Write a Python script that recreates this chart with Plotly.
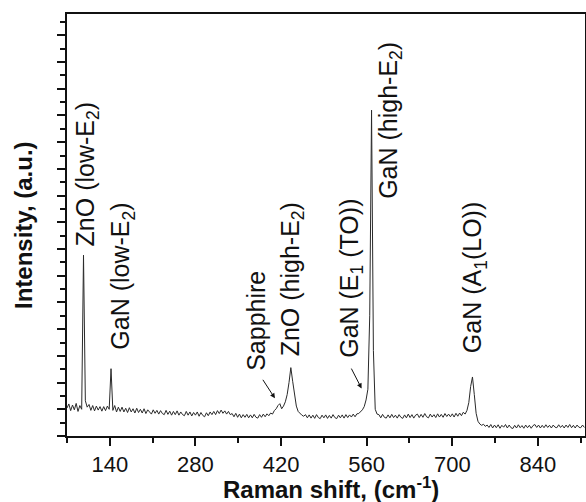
import plotly.graph_objects as go

# Raman shift sampling (cm^-1)
raman_shift = list(range(70, 917, 3))

# Intensity (a.u.)
intensity = [
    1.05, 1.20, 0.95, 1.16, 0.98, 1.22, 0.92, 1.14, 1.00, 6.77,
    1.32, 1.08, 1.18, 0.96, 1.14, 0.94, 1.12, 0.97, 1.10, 0.93,
    1.10, 0.95, 1.12, 1.00, 2.52, 0.96, 1.14, 0.90, 1.08, 0.92,
    1.08, 0.90, 1.04, 0.88, 1.06, 0.90, 1.02, 0.86, 1.04, 0.88,
    1.00, 0.86, 1.02, 0.84, 0.98, 0.90, 0.82, 0.98, 0.85, 0.96,
    0.82, 0.95, 0.84, 0.80, 0.96, 0.81, 0.93, 0.78, 0.92, 0.80,
    0.94, 0.78, 0.90, 0.80, 0.76, 0.92, 0.78, 0.90, 0.75, 0.88,
    0.78, 0.90, 0.74, 0.88, 0.77, 0.72, 0.87, 0.76, 0.90, 0.80,
    0.92, 0.80, 0.95, 0.84, 0.97, 0.85, 0.94, 0.82, 0.92, 0.80,
    0.84, 0.72, 0.85, 0.70, 0.82, 0.68, 0.80, 0.70, 0.81, 0.68,
    0.79, 0.68, 0.81, 0.70, 0.67, 0.80, 0.70, 0.82, 0.72, 0.83,
    0.76, 0.86, 0.82, 0.95, 1.02, 1.14, 1.21, 1.02, 1.12, 1.28,
    1.55, 2.00, 2.56, 2.05, 1.50, 1.12, 0.92, 0.84, 0.78, 0.74,
    0.80, 0.68, 0.79, 0.67, 0.78, 0.66, 0.80, 0.69, 0.65, 0.78,
    0.68, 0.79, 0.66, 0.77, 0.67, 0.80, 0.69, 0.65, 0.78, 0.68,
    0.79, 0.67, 0.80, 0.69, 0.79, 0.71, 0.82, 0.72, 0.83, 0.84,
    0.90, 0.98, 1.10, 1.35, 1.75, 4.50, 12.2, 3.20, 1.00, 0.82,
    0.80, 0.68, 0.81, 0.70, 0.67, 0.79, 0.68, 0.81, 0.69, 0.78,
    0.67, 0.80, 0.70, 0.66, 0.79, 0.68, 0.82, 0.69, 0.80, 0.67,
    0.78, 0.82, 0.69, 0.81, 0.70, 0.84, 0.72, 0.68, 0.82, 0.71,
    0.80, 0.69, 0.83, 0.71, 0.81, 0.70, 0.84, 0.73, 0.82, 0.72,
    0.83, 0.71, 0.85, 0.74, 0.86, 0.76, 0.89, 0.82, 0.96, 1.25,
    1.85, 2.21, 1.55, 0.85, 0.55, 0.45, 0.40, 0.44, 0.36, 0.41,
    0.32, 0.43, 0.30, 0.41, 0.31, 0.42, 0.29, 0.40, 0.33, 0.43,
    0.30, 0.41, 0.31, 0.28, 0.40, 0.30, 0.42, 0.31, 0.39, 0.29,
    0.41, 0.31, 0.40, 0.29, 0.39, 0.43, 0.32, 0.41, 0.30, 0.40,
    0.31, 0.42, 0.32, 0.40, 0.30, 0.41, 0.33, 0.31, 0.42, 0.32,
    0.40, 0.30, 0.41, 0.32, 0.43, 0.31, 0.40, 0.30, 0.41, 0.33,
    0.31, 0.41, 0.32,
]

# Peak labels: text, x position (cm^-1), bottom y (a.u.)
label_texts = ["ZnO (low-E<sub>2</sub>)", "GaN (low-E<sub>2</sub>)", "Sapphire",
               "ZnO (high-E<sub>2</sub>)", "GaN (E<sub>1</sub> (TO))",
               "GaN (high-E<sub>2</sub>)", "GaN (A<sub>1</sub>(LO))"]
label_x = [103, 160, 380, 438, 533, 598, 736]
label_y = [7.03, 3.14, 2.35, 2.91, 2.84, 8.82, 3.02]

# Arrows: tail and head positions
arrow_tail_x = [388.7, 533.7]
arrow_tail_y = [2.16, 2.58]
arrow_head_x = [410, 551.7]
arrow_head_y = [1.41, 1.78]

x_ticks = [140, 280, 420, 560, 700, 840]

FONT = "Liberation Sans, Arial, Helvetica, sans-serif"

fig = go.Figure()
fig.add_trace(go.Scatter(x=raman_shift, y=intensity, mode="lines",
                         line=dict(color="#2a2a2a", width=1), showlegend=False))

annotations = []
for t, lx, ly in zip(label_texts, label_x, label_y):
    annotations.append(dict(x=lx, y=ly, xref="x", yref="y", text=t, textangle=-90,
                            showarrow=False, xanchor="center", yanchor="bottom",
                            font=dict(family=FONT, size=25, color="#111111")))
for tx, ty, hx, hy in zip(arrow_tail_x, arrow_tail_y, arrow_head_x, arrow_head_y):
    annotations.append(dict(x=hx, y=hy, ax=tx, ay=ty, xref="x", yref="y",
                            axref="x", ayref="y", text="", showarrow=True,
                            arrowhead=2, arrowsize=1, arrowwidth=1, arrowcolor="#111111"))

# Axis titles
annotations.append(dict(x=0.5097, y=-0.123, xref="paper", yref="paper",
                        text="<b>Raman shift, (cm<sup>-1</sup>)</b>", showarrow=False,
                        xanchor="center", yanchor="middle",
                        font=dict(family=FONT, size=24, color="#111111")))
annotations.append(dict(x=-0.085, y=0.50, xref="paper", yref="paper",
                        text="<b>Intensity, (a.u.)</b>", showarrow=False, textangle=-90,
                        xanchor="center", yanchor="middle",
                        font=dict(family=FONT, size=24, color="#111111")))

fig.update_layout(
    width=586, height=502,
    margin=dict(l=67, r=1, t=14, b=66),
    paper_bgcolor="white", plot_bgcolor="white",
    font=dict(family=FONT, color="#111111"),
    annotations=annotations,
    xaxis=dict(range=[70, 917], tickvals=x_ticks, ticks="outside", ticklen=8, tickwidth=2,
               tickcolor="#111111", showgrid=False, zeroline=False, automargin=False,
               showline=True, linecolor="#111111", linewidth=2, mirror=True,
               tickfont=dict(family=FONT, size=22, color="#111111"),
               minor=dict(dtick=70, tick0=70, ticks="outside", ticklen=5, tickwidth=2,
                          tickcolor="#111111", showgrid=False)),
    yaxis=dict(range=[0, 15.8], dtick=1, tick0=0, ticks="outside", ticklen=8, tickwidth=2,
               tickcolor="#111111", showticklabels=False, showgrid=False, zeroline=False,
               automargin=False,
               showline=True, linecolor="#111111", linewidth=2, mirror=True,
               minor=dict(dtick=0.5, ticks="outside", ticklen=5, tickwidth=2,
                          tickcolor="#111111", showgrid=False)),
)

fig.write_html("out.html", config={"displayModeBar": False},
               post_script="document.body.style.margin='0';document.body.style.padding='0';")
